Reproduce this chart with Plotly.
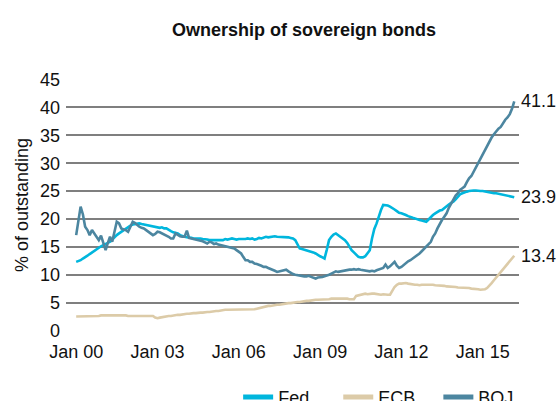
import pandas as pd
import plotly.graph_objects as go

# Monthly share of sovereign bonds outstanding held by each central bank (%),
# Jan 2000 - Mar 2016, one row per year.
fed = [
    12.3, 12.4, 12.6, 12.9, 13.1, 13.4, 13.7, 14.0, 14.3, 14.6, 14.9, 15.1,  # 2000
    15.3, 15.5, 15.7, 15.9, 16.3, 16.8, 17.1, 17.4, 17.7, 18.0, 18.3, 18.6,  # 2001
    18.8, 19.0, 19.1, 19.2, 19.2, 19.1, 19.0, 18.9, 18.8, 18.7, 18.6, 18.5,  # 2002
    18.5, 18.4, 18.5, 18.3, 18.3, 18.0, 17.8, 17.6, 17.5, 17.4, 17.1, 16.9,  # 2003
    16.8, 16.7, 16.7, 16.6, 16.5, 16.5, 16.6, 16.5, 16.4, 16.4, 16.3, 16.2,  # 2004
    16.2, 16.3, 16.2, 16.2, 16.3, 16.2, 16.4, 16.3, 16.4, 16.5, 16.4, 16.3,  # 2005
    16.4, 16.4, 16.3, 16.4, 16.5, 16.4, 16.5, 16.3, 16.4, 16.6, 16.5, 16.7,  # 2006
    16.8, 16.7, 16.8, 16.8, 16.9, 16.8, 16.8, 16.7, 16.8, 16.8, 16.7, 16.6,  # 2007
    16.5, 16.2, 15.4, 14.7, 14.6, 14.5, 14.4, 14.2, 14.1, 14.0, 13.8, 13.5,  # 2008
    13.3, 13.1, 12.9, 14.5, 16.2, 16.8, 17.2, 17.4, 17.1, 16.7, 16.4, 16.2,  # 2009
    15.7, 15.0, 14.4, 14.0, 13.6, 13.2, 13.1, 13.1, 13.3, 13.8, 14.4, 16.5,  # 2010
    18.2, 19.2, 20.5, 21.6, 22.5, 22.5, 22.4, 22.2, 22.0, 21.7, 21.4, 21.1,  # 2011
    21.0, 20.9, 20.7, 20.5, 20.3, 20.2, 20.1, 19.9, 19.8, 19.7, 19.6, 19.5,  # 2012
    19.9, 20.4, 20.7, 21.0, 21.3, 21.5, 21.6, 22.0, 22.3, 22.6, 22.9, 23.1,  # 2013
    23.5, 23.9, 24.4, 24.6, 24.8, 24.9, 25.0, 25.1, 25.1, 25.1, 25.0, 25.0,  # 2014
    25.0, 24.9, 24.9, 24.8, 24.7, 24.6, 24.6, 24.5, 24.4, 24.3, 24.2, 24.1,  # 2015
    24.0, 23.9, 23.9,                                                        # 2016
]

ecb = [
    2.5, 2.5, 2.5, 2.5, 2.6, 2.6, 2.6, 2.6, 2.6, 2.6, 2.6, 2.7,  # 2000
    2.7, 2.8, 2.8, 2.8, 2.8, 2.8, 2.7, 2.7, 2.7, 2.7, 2.7, 2.6,  # 2001
    2.6, 2.6, 2.5, 2.5, 2.5, 2.6, 2.6, 2.6, 2.6, 2.6, 2.6, 2.3,  # 2002
    2.2, 2.3, 2.4, 2.5, 2.5, 2.6, 2.6, 2.7, 2.7, 2.8, 2.8, 2.9,  # 2003
    3.0, 3.0, 3.0, 3.1, 3.1, 3.1, 3.2, 3.2, 3.2, 3.3, 3.3, 3.3,  # 2004
    3.4, 3.4, 3.5, 3.5, 3.6, 3.6, 3.7, 3.7, 3.7, 3.7, 3.7, 3.7,  # 2005
    3.7, 3.7, 3.7, 3.7, 3.7, 3.7, 3.7, 3.8, 3.9, 4.0, 4.2, 4.3,  # 2006
    4.4, 4.4, 4.4, 4.5, 4.5, 4.6, 4.6, 4.7, 4.8, 4.8, 4.9, 4.9,  # 2007
    5.0, 5.0, 5.1, 5.1, 5.2, 5.2, 5.3, 5.3, 5.4, 5.4, 5.5, 5.5,  # 2008
    5.5, 5.5, 5.6, 5.6, 5.6, 5.7, 5.7, 5.7, 5.7, 5.8, 5.8, 5.8,  # 2009
    5.7, 5.6, 5.6, 5.6, 6.2, 6.3, 6.4, 6.5, 6.6, 6.5, 6.6, 6.6,  # 2010
    6.6, 6.5, 6.5, 6.4, 6.5, 6.4, 6.4, 6.4, 7.2, 7.8, 8.2, 8.4,  # 2011
    8.4, 8.5, 8.5, 8.4, 8.3, 8.2, 8.2, 8.2, 8.1, 8.2, 8.2, 8.2,  # 2012
    8.3, 8.2, 8.2, 8.1, 8.1, 8.0, 8.0, 8.0, 7.9, 7.9, 7.9, 7.8,  # 2013
    7.8, 7.7, 7.7, 7.6, 7.6, 7.6, 7.6, 7.5, 7.5, 7.4, 7.4, 7.3,  # 2014
    7.3, 7.4, 7.6, 8.0, 8.5, 9.0, 9.5, 9.9, 10.4, 10.9, 11.4, 11.9,  # 2015
    12.4, 12.9, 13.4,                                            # 2016
]

boj = [
    17.1, 20.0, 22.2, 20.8, 18.6, 18.0, 17.1, 18.0, 17.4, 17.0, 16.2, 17.0,  # 2000
    15.5, 14.4, 15.6, 16.8, 15.9, 17.6, 19.5, 19.2, 18.3, 18.1, 18.0, 17.7,  # 2001
    18.6, 19.5, 19.3, 18.9, 18.6, 18.4, 18.3, 18.0, 17.7, 17.4, 17.1, 17.3,  # 2002
    17.7, 17.6, 17.4, 17.2, 17.1, 16.8, 16.5, 16.5, 17.4, 17.1, 16.9, 16.8,  # 2003
    16.8, 17.9, 16.6, 16.5, 16.4, 16.3, 16.3, 16.2, 16.0, 15.8, 15.6, 15.9,  # 2004
    15.8, 15.5, 15.6, 15.4, 15.3, 15.1, 15.0, 15.0, 14.9, 14.8, 14.7, 14.4,  # 2005
    14.1, 13.8, 13.2, 12.6, 12.6, 12.3, 12.3, 12.0, 11.9, 11.8, 11.6, 11.4,  # 2006
    11.4, 11.2, 11.0, 10.9, 10.7, 10.5, 10.6, 10.8, 10.9, 10.9, 10.6, 10.3,  # 2007
    10.1, 10.0, 9.9, 9.9, 9.8, 9.7, 9.7, 9.8, 9.6, 9.5, 9.3, 9.5,            # 2008
    9.5, 9.6, 9.7, 9.8, 10.0, 10.2, 10.4, 10.6, 10.5, 10.6, 10.7, 10.8,      # 2009
    10.8, 10.9, 10.9, 11.0, 10.9, 11.0, 10.9, 10.8, 10.8, 10.7, 10.6, 10.7,  # 2010
    10.6, 10.8, 10.9, 11.0, 11.2, 11.8, 11.2, 11.5, 12.0, 12.3, 11.6, 11.2,  # 2011
    11.4, 11.8, 12.1, 12.4, 12.6, 12.9, 13.2, 13.4, 13.8, 14.2, 14.6, 15.0,  # 2012
    15.5, 15.9, 16.8, 17.4, 18.3, 19.2, 19.8, 20.4, 21.0, 22.0, 22.8, 23.6,  # 2013
    24.2, 24.6, 25.2, 25.5, 25.8, 26.6, 27.3, 27.7, 28.5, 29.3, 30.0, 30.8,  # 2014
    31.5, 32.4, 33.3, 34.1, 34.6, 35.2, 35.8, 36.2, 36.5, 37.2, 37.8, 38.2,  # 2015
    38.8, 39.8, 41.1,                                                        # 2016
]

series_names = ["Fed", "ECB", "BOJ"]
series_colors = ["#00B6DD", "#DCCBA8", "#4C86A0"]
y_ticks = [0, 5, 10, 15, 20, 25, 30, 35, 40, 45]

dates = pd.date_range("2000-01-01", periods=len(fed), freq="MS")

FONT = "Liberation Sans, Arial, sans-serif"
TEXT = "#111111"

fig = go.Figure()

for name, vals, col in zip(series_names, [fed, ecb, boj], series_colors):
    fig.add_trace(go.Scatter(
        x=dates, y=vals, mode="lines", name=name,
        line=dict(color=col, width=2.6),
        showlegend=False, hoverinfo="x+y+name",
    ))
    # end-of-series value label
    fig.add_annotation(
        x=dates[-1], y=vals[-1], text=f"{vals[-1]:.1f}",
        xanchor="left", yanchor="middle", xshift=5, showarrow=False,
        font=dict(family=FONT, size=18, color=TEXT),
    )

# legend entries with heavier swatches, one legend box per series so the
# three keys sit evenly spaced along the bottom edge
legend_ids = ["legend", "legend2", "legend3"]
legend_x = [0.380, 0.601, 0.822]
for name, col, lid in zip(series_names, series_colors, legend_ids):
    fig.add_trace(go.Scatter(
        x=[None], y=[None], mode="lines", name=name,
        line=dict(color=col, width=5), showlegend=True, legend=lid,
    ))

legend_common = dict(
    orientation="h", xanchor="left", yref="container", y=0.009, yanchor="middle",
    font=dict(family=FONT, size=18, color=TEXT),
    bgcolor="rgba(0,0,0,0)", borderwidth=0,
)

fig.update_layout(
    width=560, height=401,
    margin=dict(l=66, r=41, t=79, b=70, autoexpand=False),
    paper_bgcolor="white", plot_bgcolor="white",
    font=dict(family=FONT, size=18, color=TEXT),
    title=dict(
        text="<b>Ownership of sovereign bonds</b>",
        x=0.543, xref="container", xanchor="center",
        y=0.925, yref="container", yanchor="middle",
        font=dict(family=FONT, size=18, color=TEXT),
    ),
    showlegend=True,
    legend=dict(x=legend_x[0], **legend_common),
    legend2=dict(x=legend_x[1], **legend_common),
    legend3=dict(x=legend_x[2], **legend_common),
    xaxis=dict(
        type="date",
        range=["1999-08-17", "2016-05-04"],
        tick0="2000-01-01", dtick="M36", tickformat="%b %y",
        showgrid=False, zeroline=False, showline=False, ticks="",
        ticklabelstandoff=8,
        tickfont=dict(family=FONT, size=18, color=TEXT),
    ),
    yaxis=dict(
        range=[-0.1, 45.1],
        tickvals=y_ticks,
        showgrid=True, gridcolor="#7F7F7F", gridwidth=1.6,
        zeroline=False, showline=False, ticks="",
        ticklabelstandoff=5,
        tickfont=dict(family=FONT, size=18, color=TEXT),
        title=dict(text="% of outstanding", standoff=6,
                   font=dict(family=FONT, size=18, color=TEXT)),
    ),
)

fig.write_html("out.html")
